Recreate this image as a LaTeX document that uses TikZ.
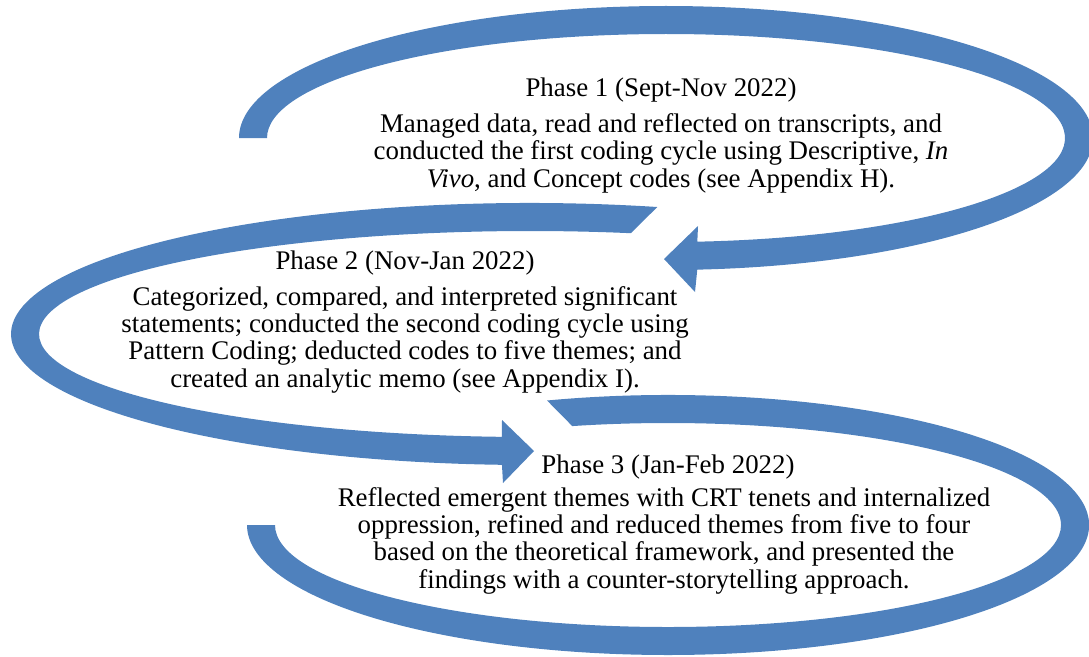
\documentclass[tikz,border=0pt]{standalone}
\usepackage{fontspec}
\setmainfont{Liberation Serif}
\usetikzlibrary{calc}
\definecolor{bandblue}{RGB}{79,129,189}
\tikzset{
  cycle band/.style={
    fill=bandblue,
    draw=none
  },
  phase title/.style={
    inner sep=0pt,
    font=\fontsize{12}{12.1}\selectfont
  },
  phase text/.style={
    inner sep=0pt,
    align=center,
    font=\fontsize{12}{12.1}\selectfont
  }
}

\begin{document}
\begin{tikzpicture}[x=0.4465pt,y=0.4465pt]

    \useasboundingbox (0,0) rectangle (1089,-656);

    % ---------- Mittelpunkte der Bögen ----------
    \coordinate (c1) at (666,-138);
    \coordinate (c2) at (530,-334);
    \coordinate (c3) at (668,-525);

    % ---------- Bogen 1 ----------
    \fill[cycle band]
      ($(c1)+(180:427 and 132)$)
      arc[start angle=180, end angle=-85.8,
          x radius=427, y radius=132]
      -- (695,-292) -- (664,-259) -- (698,-226)
      -- ($(c1)+(-85.5:399 and 104)$)
      arc[start angle=-85.5, end angle=180,
          x radius=399, y radius=104]
      -- cycle;

    % ---------- Bogen 2 ----------
    \fill[cycle band]
      ($(c2)+(75.8:519 and 131)$)
      arc[start angle=75.8, end angle=266.9,
          x radius=519, y radius=131]
      -- (503,-483) -- (534,-451) -- (502,-420)
      -- ($(c2)+(266.7:491 and 103)$)
      arc[start angle=266.7, end angle=78.15,
          x radius=491, y radius=103]
      -- cycle;

    % ---------- Bogen 3 ----------
    \fill[cycle band]
      ($(c3)+(106.7:421 and 130)$)
      arc[start angle=106.7, end angle=-180,
          x radius=421, y radius=130]
      -- ($(c3)+(-180:393 and 102)$)
      arc[start angle=-180, end angle=104.1,
          x radius=393, y radius=102]
      -- cycle;

    % ---------- Phase 1 ----------
    \node[phase title, anchor=base] (p1title) at (661,-96)
      {Phase 1 (Sept-Nov 2022)};
    \node[phase text, anchor=base] (p1text) at (661,-187)
      {Managed data, read and reflected on transcripts, and\\
       conducted the first coding cycle using Descriptive, \textit{In}\\
       \textit{Vivo}, and Concept codes (see Appendix H).};

    % ---------- Phase 2 ----------
    \node[phase title, anchor=base] (p2title) at (405,-269)
      {Phase 2 (Nov-Jan 2022)};
    \node[phase text, anchor=base] (p2text) at (405,-387)
      {Categorized, compared, and interpreted significant\\
       statements; conducted the second coding cycle using\\
       Pattern Coding; deducted codes to five themes; and\\
       created an analytic memo (see Appendix I).};

    % ---------- Phase 3 ----------
    \node[phase title, anchor=base] (p3title) at (668,-473)
      {Phase 3 (Jan-Feb 2022)};
    \node[phase text, anchor=base] (p3text) at (664,-588)
      {Reflected emergent themes with CRT tenets and internalized\\
       oppression, refined and reduced themes from five to four\\
       based on the theoretical framework, and presented the\\
       findings with a counter-storytelling approach.};

\end{tikzpicture}
\end{document}
